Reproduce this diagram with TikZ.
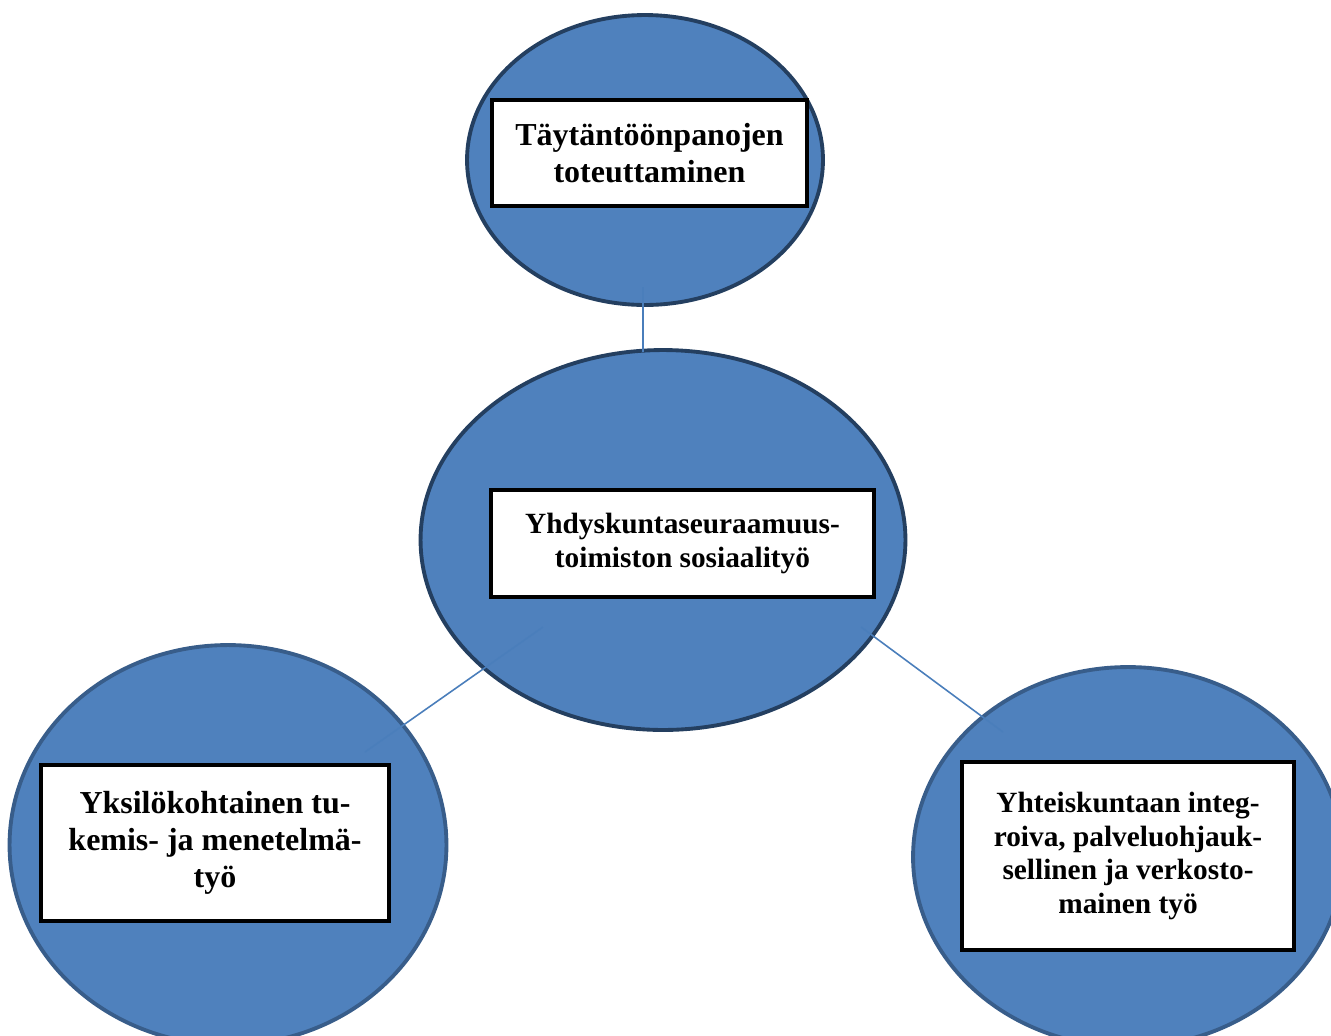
\documentclass[tikz,border=0pt]{standalone}
\usepackage{fontspec}
\setmainfont{Liberation Serif}
\usetikzlibrary{shapes.geometric}
\definecolor{blobfill}{HTML}{4F81BD}
\definecolor{blobdark}{HTML}{243F60}
\definecolor{blobmid}{HTML}{385D8A}
\definecolor{linkcol}{HTML}{4A7EBB}
\tikzset{
  blob/.style={ellipse, fill=blobfill, draw=blobdark, line width=2.2pt, inner sep=0pt},
  blobl/.style={blob, draw=blobmid},
  label box/.style={draw=black, fill=white, line width=2.6pt, align=center, inner sep=0pt,
    font=\bfseries\fontsize{16.7}{19.3}\selectfont},
  big text/.style={font=\bfseries\fontsize{18.2}{21}\selectfont},
  link/.style={draw=linkcol, line width=0.9pt},
}
\begin{document}
\begin{tikzpicture}[x=0.02cm, y=-0.02cm]
      \useasboundingbox (0,0) rectangle (1331,1035);
      % ellipses
      \node[blob, minimum width=7.12cm, minimum height=5.8cm] (top) at (645,160) {};
      \node[blob, minimum width=9.7cm, minimum height=7.6cm] (mid) at (663,540) {};
      \node[blobl, minimum width=8.74cm, minimum height=8cm] (left) at (228,845) {};
      \node[blobl, minimum width=8.6cm, minimum height=7.6cm] (right) at (1128,857) {};

      % connector ends
      \coordinate (t1) at (643,287);
      \coordinate (t2) at (643,352);
      \coordinate (l1) at (543,627);
      \coordinate (l2) at (365,752);
      \coordinate (r1) at (861,627);
      \coordinate (r2) at (1003,732);
      \draw[link] (t1) -- (t2);
      \draw[link] (l1) -- (l2);
      \draw[link] (r1) -- (r2);

      % text boxes
      \node[label box, big text, minimum width=6.3cm, minimum height=2.12cm] (topbox) at (649.5,153)
        {Täytäntöönpanojen\\toteuttaminen};
      \node[label box, minimum width=7.66cm, minimum height=2.14cm] (midbox) at (682.5,543.5)
        {Yhdyskuntaseuraamuus-\\toimiston sosiaalityö};
      \node[label box, big text, minimum width=6.96cm, minimum height=3.12cm] (leftbox) at (215,843)
        {Yksilökohtainen tu-\\kemis- ja menetelmä-\\työ};
      \node[label box, minimum width=6.64cm, minimum height=3.76cm] (rightbox) at (1128,856)
        {Yhteiskuntaan integ-\\roiva, palveluohjauk-\\sellinen ja verkosto-\\mainen työ};
    \end{tikzpicture}
\end{document}
